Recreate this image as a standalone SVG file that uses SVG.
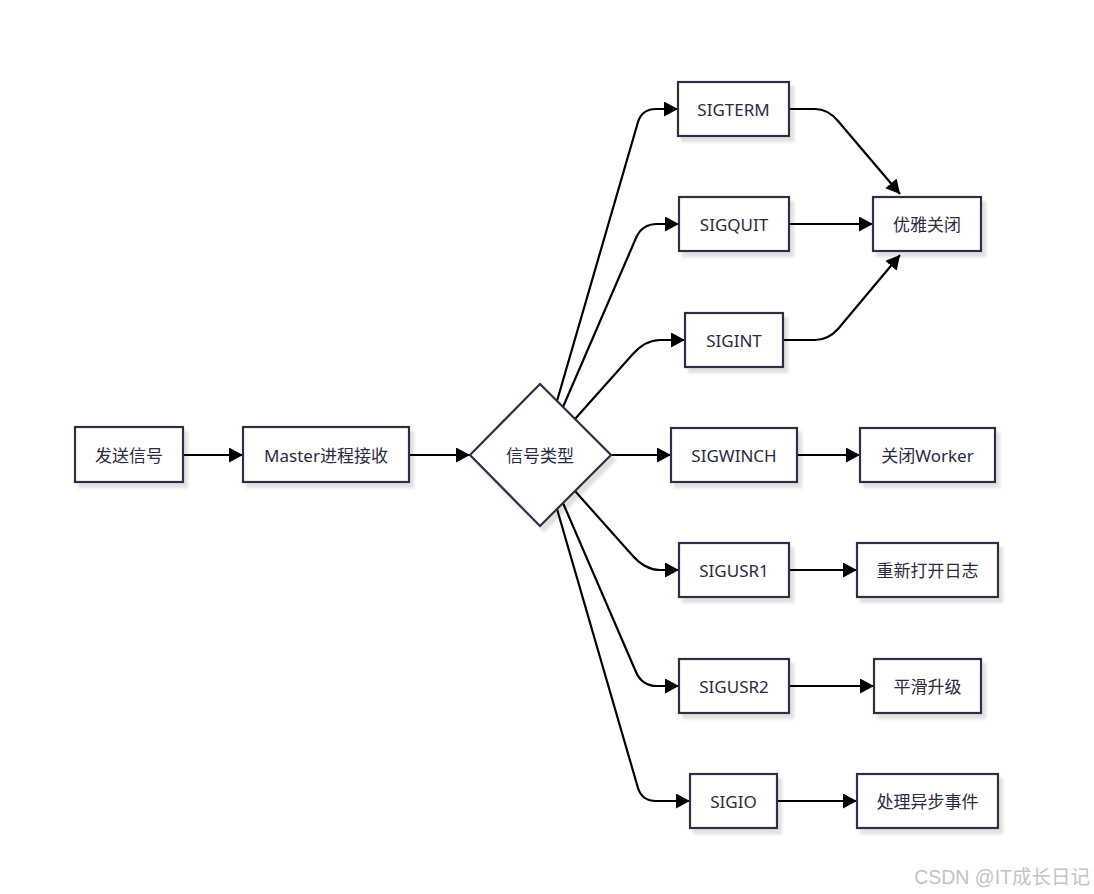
<svg xmlns="http://www.w3.org/2000/svg" width="1094" height="894" viewBox="0 0 1094 894">
<defs>
<marker id="arr" markerUnits="userSpaceOnUse" markerWidth="15" markerHeight="15" refX="14" refY="7.5" orient="auto">
<path d="M0,0 L14,7.5 L0,15 z" fill="#000"/>
</marker>
<filter id="sh" x="-10%" y="-10%" width="130%" height="140%">
<feDropShadow dx="4" dy="5" stdDeviation="1.5" flood-color="#000" flood-opacity="0.12"/>
</filter>
</defs>
<style>
.n rect,.n polygon{fill:#fff;stroke:#2f2f45;stroke-width:2.2;filter:url(#sh)}
.n text{font-family:"Noto Sans","Noto Sans CJK SC",sans-serif;font-size:17px;fill:#2b2b3f;text-anchor:middle;dominant-baseline:central}
.e path{fill:none;stroke:#000;stroke-width:2.2;marker-end:url(#arr)}
.wm{font-family:"Liberation Sans","Noto Sans CJK SC",sans-serif;font-size:19.5px;fill:#c4c4c4;text-anchor:end}
</style>
<rect width="1094" height="894" fill="#fff"/>
<g id="connectors" class="e">
<path d="M183,455 L243,455"/>
<path d="M409,455 L470,455"/>
<path d="M557,401 L638,122 Q642,109 656,109 L678,109"/>
<path d="M563,407 L636,238 Q642,224 657,224 L679,224"/>
<path d="M575,419 L632,355 Q645,340 660,340 L685,340"/>
<path d="M611,455 L671,455"/>
<path d="M575,491 L632,555 Q645,570 660,570 L679,570"/>
<path d="M563,503 L636,672 Q642,686 657,686 L679,686"/>
<path d="M557,509 L638,788 Q642,801 656,801 L690,801"/>
<path d="M789,109 L815,109 Q828,109 838,121 L900,194"/>
<path d="M789,224 L873,224"/>
<path d="M783,340 L815,340 Q828,340 838,329 L900,255"/>
<path d="M797,455 L860,455"/>
<path d="M789,570 L857,570"/>
<path d="M789,686 L874,686"/>
<path d="M777,801 L857,801"/>
</g>
<g id="n-send" class="n"><rect x="75" y="427" width="108" height="55"/><text x="129" y="455">发送信号</text></g>
<g id="n-master" class="n"><rect x="243" y="427" width="166" height="55"/><text x="326" y="455">Master进程接收</text></g>
<g id="n-type" class="n"><polygon points="540,384 611,455 540,526 470,455"/><text x="540" y="455">信号类型</text></g>
<g id="n-sigterm" class="n"><rect x="678" y="82" width="111" height="54"/><text x="733.5" y="109">SIGTERM</text></g>
<g id="n-sigquit" class="n"><rect x="679" y="197" width="110" height="54"/><text x="734" y="224">SIGQUIT</text></g>
<g id="n-sigint" class="n"><rect x="685" y="313" width="98" height="54"/><text x="734" y="340">SIGINT</text></g>
<g id="n-sigwinch" class="n"><rect x="671" y="428" width="126" height="54"/><text x="734" y="455">SIGWINCH</text></g>
<g id="n-sigusr1" class="n"><rect x="679" y="543" width="110" height="54"/><text x="734" y="570">SIGUSR1</text></g>
<g id="n-sigusr2" class="n"><rect x="679" y="659" width="110" height="54"/><text x="734" y="686">SIGUSR2</text></g>
<g id="n-sigio" class="n"><rect x="690" y="774" width="87" height="54"/><text x="733.5" y="801">SIGIO</text></g>
<g id="n-graceful" class="n"><rect x="873" y="197" width="108" height="54"/><text x="927" y="224">优雅关闭</text></g>
<g id="n-closeworker" class="n"><rect x="860" y="428" width="135" height="54"/><text x="927.5" y="455">关闭Worker</text></g>
<g id="n-reopen" class="n"><rect x="857" y="543" width="141" height="54"/><text x="927.5" y="570">重新打开日志</text></g>
<g id="n-upgrade" class="n"><rect x="874" y="659" width="107" height="54"/><text x="927.5" y="686">平滑升级</text></g>
<g id="n-async" class="n"><rect x="857" y="774" width="141" height="54"/><text x="927.5" y="801">处理异步事件</text></g>
<text class="wm" x="1090" y="884">CSDN @IT成长日记</text>
</svg>
